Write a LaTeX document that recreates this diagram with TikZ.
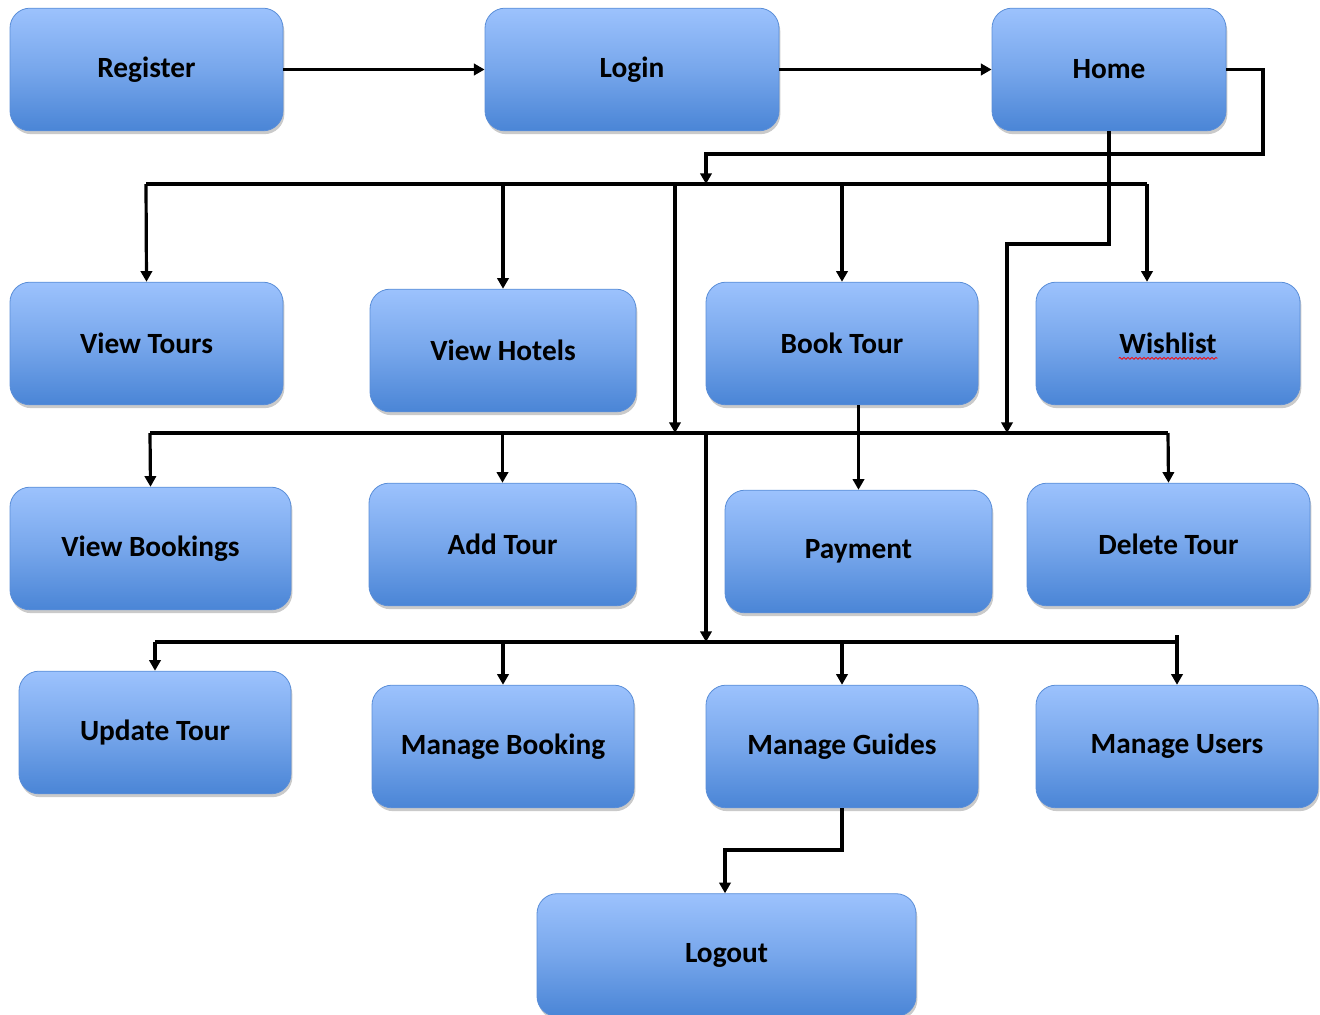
\documentclass[tikz,border=0pt]{standalone}
\usepackage{fontspec}
\setmainfont{Carlito}
\usetikzlibrary{arrows.meta,shadows,decorations.pathmorphing}
\definecolor{boxtop}{HTML}{9CC2FD}
\definecolor{boxbot}{HTML}{4A85D6}
\definecolor{boxedge}{HTML}{5A8ED8}
\begin{document}
\begin{tikzpicture}[x=0.75pt,y=-0.75pt,
  box/.style={draw=boxedge, line width=0.6pt, rounded corners=15pt,
    top color=boxtop, bottom color=boxbot, middle color=boxtop!55!boxbot,
    drop shadow={shadow xshift=1pt, shadow yshift=-2.5pt, opacity=0.35, fill=black!60},
    font=\fontsize{22}{25}\selectfont\bfseries, text=black, inner sep=0pt,
    minimum width=#1},
  box/.default={204pt},
  conn/.style={line width=2.4pt, line join=miter, draw=black},
  arr/.style={conn, -{Triangle[length=8pt,width=8.5pt]}}]
\useasboundingbox (0,0) rectangle (1320,1014);
\tikzset{every node/.append style={minimum height=92pt}}
% row 1
\node[box={204.75pt}] (reg) at (146.5,69.5) {Register};
\node[box={220.5pt}] (login) at (632,69.5) {Login};
\node[box={175.5pt}] (home) at (1109,69.5) {Home};
% row 2
\node[box={204.75pt}] (vt) at (146.5,343.5) {View Tours};
\node[box={199.5pt}] (vh) at (503,350.5) {View Hotels};
\node[box={204pt}] (bt) at (842,343.5) {Book Tour};
\node[box={198pt}] (wl) at (1168,343.5) {Wishlist};
% row 3
\node[box={210.75pt}] (vb) at (150.5,548.5) {View Bookings};
\node[box={200.25pt}] (at) at (502.5,544.5) {Add Tour};
\node[box={200.25pt}] (pay) at (858.5,551.5) {Payment};
\node[box={212.25pt}] (dt) at (1168.5,544.5) {Delete Tour};
% row 4
\node[box={204pt}] (ut) at (155,732.5) {Update Tour};
\node[box={196.5pt}] (mb) at (503,746.5) {Manage Booking};
\node[box={204pt}] (mg) at (842,746.5) {Manage Guides};
\node[box={211.5pt}] (mu) at (1177,746.5) {Manage Users};
% row 5
\node[box={284.25pt}] (lo) at (726.5,955) {Logout};

% spell-check squiggle
\draw[red, line width=0.6pt, decorate, decoration={snake, amplitude=0.7pt, segment length=3pt}]
  ([xshift=-37pt,yshift=-3.5pt]wl.base) -- ([xshift=37pt,yshift=-3.5pt]wl.base);

% coordinates
\coordinate (h1) at (1263,154);
\coordinate (h2) at (706,184);
\coordinate (b1L) at (146,184);
\coordinate (b1R) at (1147,184);
\coordinate (b1d) at (675,184);
\coordinate (b2L) at (150,433);
\coordinate (b2R) at (1168,433);
\coordinate (h3) at (1007,244);
\coordinate (b2d) at (706,433);
\coordinate (b3L) at (155,642);
\coordinate (b3R) at (1177,642);
\coordinate (b3t) at (1177,635);
\coordinate (g1) at (842,850);
\coordinate (lo1) at (725,850);

% row 1 arrows
\draw[arr] (reg) -- (login);
\draw[arr] (login) -- (home);
\draw[arr] (home.east) -| (h1) -- (h2 |- h1) -- (h2);
% bus 1
\draw[conn] (b1L) -- (b1R);
\draw[arr] (b1L) -- (vt.north);
\draw[arr] (vh.north |- b1L) -- (vh.north);
\draw[arr] (bt.north |- b1L) -- (bt.north);
\draw[arr] (b1R) -- (b1R |- wl.north);
\draw[arr] (b1d) -- (b1d |- b2L);
% home down
\draw[arr] (home.south) -- (home.south |- h3) -- (h3) -- (h3 |- b2L);
% bus 2
\draw[conn] (b2L) -- (b2R);
\draw[arr] (b2L) -- (vb.north);
\draw[arr] (at.north |- b2L) -- (at.north);
\draw[arr] (b2R) -- (dt.north);
\draw[arr] (pay.north |- bt.south) -- (pay.north);
\draw[arr] (b2d) -- (b2d |- b3L);
% bus 3
\draw[conn] (b3L) -- (b3R |- b3L);
\draw[arr] (b3L) -- (ut.north);
\draw[arr] (mb.north |- b3L) -- (mb.north);
\draw[arr] (mg.north |- b3L) -- (mg.north);
\draw[arr] (b3t) -- (mu.north);
% to logout
\draw[arr] (mg.south) -- (g1) -- (lo1) -- (lo1 |- lo.north);
\end{tikzpicture}
\end{document}
